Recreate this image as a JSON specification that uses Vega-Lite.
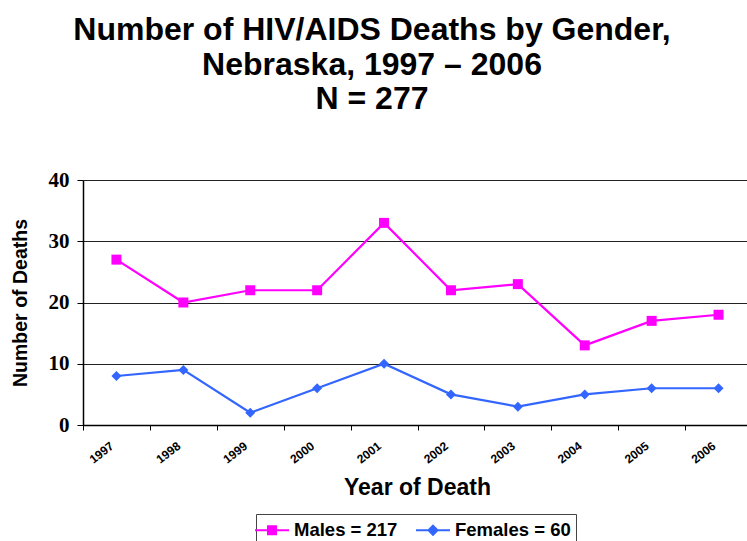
{
  "$schema": "https://vega.github.io/schema/vega-lite/v6.json",
  "width": 664,
  "height": 245,
  "autosize": "none",
  "padding": {"left": 83, "top": 180, "right": 0, "bottom": 116},
  "background": "white",
  "title": {
    "text": ["Number of HIV/AIDS Deaths by Gender,", "Nebraska, 1997 – 2006", "N = 277"],
    "font": "Liberation Sans",
    "fontSize": 32,
    "fontWeight": "bold",
    "lineHeight": 34.5,
    "anchor": "middle",
    "dx": -43,
    "offset": 53,
    "color": "black"
  },
  "data": {
    "values": [
      {"year": "1997", "series": "Males = 217", "deaths": 27},
      {"year": "1998", "series": "Males = 217", "deaths": 20},
      {"year": "1999", "series": "Males = 217", "deaths": 22},
      {"year": "2000", "series": "Males = 217", "deaths": 22},
      {"year": "2001", "series": "Males = 217", "deaths": 33},
      {"year": "2002", "series": "Males = 217", "deaths": 22},
      {"year": "2003", "series": "Males = 217", "deaths": 23},
      {"year": "2004", "series": "Males = 217", "deaths": 13},
      {"year": "2005", "series": "Males = 217", "deaths": 17},
      {"year": "2006", "series": "Males = 217", "deaths": 18},
      {"year": "1997", "series": "Females = 60", "deaths": 8},
      {"year": "1998", "series": "Females = 60", "deaths": 9},
      {"year": "1999", "series": "Females = 60", "deaths": 2},
      {"year": "2000", "series": "Females = 60", "deaths": 6},
      {"year": "2001", "series": "Females = 60", "deaths": 10},
      {"year": "2002", "series": "Females = 60", "deaths": 5},
      {"year": "2003", "series": "Females = 60", "deaths": 3},
      {"year": "2004", "series": "Females = 60", "deaths": 5},
      {"year": "2005", "series": "Females = 60", "deaths": 6},
      {"year": "2006", "series": "Females = 60", "deaths": 6}
    ]
  },
  "encoding": {
    "x": {
      "field": "year",
      "type": "ordinal",
      "scale": {"type": "band", "paddingInner": 0, "paddingOuter": 0, "range": [0, 669]},
      "axis": {
        "title": "Year of Death",
        "titleFont": "Liberation Sans",
        "titleFontSize": 23,
        "titleFontWeight": "bold",
        "titleColor": "black",
        "titlePadding": 11,
        "titleX": 334,
        "labelAngle": -38,
        "labelFont": "Liberation Sans",
        "labelFontSize": 12,
        "labelFontWeight": "bold",
        "labelColor": "black",
        "labelPadding": 10,
        "labelOffset": -8,
        "tickBand": "extent",
        "tickColor": "black",
        "tickSize": 5,
        "domainColor": "black",
        "domainWidth": 1.5,
        "grid": false
      }
    },
    "y": {
      "field": "deaths",
      "type": "quantitative",
      "scale": {"domain": [0, 40], "nice": false},
      "axis": {
        "title": "Number  of Deaths",
        "titleFont": "Liberation Sans",
        "titleFontSize": 19.5,
        "titleFontWeight": "bold",
        "titleColor": "black",
        "titlePadding": 18,
        "values": [0, 10, 20, 30, 40],
        "labelFont": "Liberation Serif",
        "labelFontSize": 21,
        "labelFontWeight": "bold",
        "labelColor": "black",
        "labelPadding": 8,
        "tickColor": "black",
        "tickSize": 6,
        "domainColor": "black",
        "domainWidth": 1.5,
        "grid": true,
        "gridColor": "#222222",
        "gridWidth": 1,
        "gridOpacity": 1
      }
    },
    "color": {
      "field": "series",
      "type": "nominal",
      "scale": {"domain": ["Males = 217", "Females = 60"], "range": ["#FF00FF", "#3366FF"]},
      "legend": {
        "title": null,
        "orient": "none",
        "legendX": 173,
        "legendY": 334,
        "direction": "horizontal",
        "strokeColor": "#444444",
        "padding": 5,
        "labelFont": "Liberation Sans",
        "labelFontSize": 18.5,
        "labelFontWeight": "bold",
        "labelColor": "black",
        "symbolSize": 400,
        "columnPadding": 14,
        "labelOffset": 11,
        "encode": {
          "symbols": {
            "update": {
              "shape": {"signal": "datum.value === 'Males = 217' ? 'M-1.7,0H1.7M-0.4,-0.4H0.4V0.4H-0.4Z' : 'M-1.7,0H1.7M0,-0.45L0.45,0L0,0.45L-0.45,0Z'"},
              "strokeWidth": {"value": 2},
              "stroke": {"signal": "datum.value === 'Males = 217' ? '#FF00FF' : '#3366FF'"},
              "fill": {"signal": "datum.value === 'Males = 217' ? '#FF00FF' : '#3366FF'"},
              "opacity": {"value": 1}
            }
          }
        }
      }
    }
  },
  "layer": [
    {"mark": {"type": "line", "strokeWidth": 2.2}},
    {
      "mark": {"type": "point", "filled": true, "opacity": 1, "size": 100},
      "encoding": {
        "shape": {
          "condition": {"test": "datum.series === 'Males = 217'", "value": "square"},
          "value": "diamond"
        }
      }
    }
  ]
}
